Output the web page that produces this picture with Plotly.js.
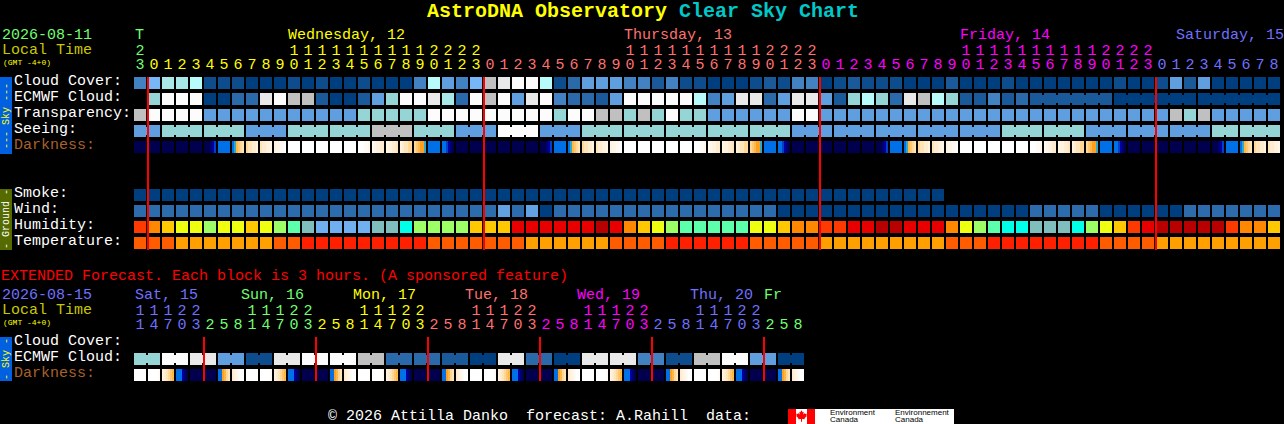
<!DOCTYPE html>
<html><head><meta charset="utf-8">
<script src="https://cdn.plot.ly/plotly-3.0.1.min.js"></script>
<style>html,body{margin:0;padding:0;background:#000;overflow:hidden}#c{width:1284px;height:424px}</style>
</head><body><div id="c"></div>
<script>
// ---- values (indices into the palettes) ----
const cloudPalette=['#003f7f','#0d4d8d','#1a5a9a','#2a6aaa','#4382c2','#5f9fe0','#77b7f7','#95d5d5','#a8e8e8','#b8fbfb','#e9e9e9','#fcfcfc','#c0c0c0'];
const cloudCover=[4,6,8,8,9,1,1,1,0,0, 0,1,0,1,0,0,1,0,0,0, 4,9,5,4,6,12,10,11,11,9, 1,3,5,5,5,4,4,2,4,1, 1,0,0,0,1,2,1,4,4,0, 1,2,1,1,1,0,0,0,2,0, 0,0,1,0,0,0,0,0,0,0, 1,0,0,1,5,2,5,0,0,0, 0,0];
const ecmwfCloud=[null,7,11,11,11,0,0,3,3,10, 11,12,12,2,0,0,2,5,7,11, 11,10,8,3,11,12,11,5,10,11, 4,3,3,2,5,11,11,11,11,11, 9,4,5,10,10,3,5,10,10,5, 2,7,9,7,3,10,12,9,7,2, 2,4,2,3,2,2,2,2,2,2, 0,0,0,0,0,0,0,0,0,0, 0,0];
const ecmwfGroups=[64,64,64,64,64,64,70,70,70,70,70,70,76,76,76,76,76,76];
const transparency=[12,11,11,11,11,5,5,5,5,5, 5,5,5,5,5,5,7,7,7,7, 7,11,11,11,11,11,11,11,11,11, 7,11,11,12,12,7,12,7,11,7, 7,5,5,5,5,5,5,11,11,5, 5,5,5,5,5,5,5,5,5,5, 5,5,5,5,5,5,5,5,5,5, 5,5,5,5,12,7,12,5,5,5, 5,5];
const seeing=[5,5,7,7,7,7,7,7,5,5, 5,7,7,7,7,7,7,12,12,12, 7,7,7,5,5,5,11,11,11,5, 5,5,7,7,7,7,7,7,7,7, 7,7,7,7,7,7,7,5,5,5, 5,5,5,5,5,5,5,5,5,5, 5,5,7,7,7,7,7,7,5,5, 5,5,5,5,5,5,5,7,7,7, 7,7];
const seeingGroupSizes=[2,3,3,3,3,3,3,3,3,3,3,3,3,3,3,3,3,3,3,3,3,3,3,3,3,3,2];
const darknessPalette={'0':'#00004e','1':'#000070','2':'#0000a0','3':'#0040c8','4':'#0070e8','5':'#30a8c8','6':'#ffa020','7':'#ffb848','8':'#ffc870','9':'#ffd898','a':'#ffe4b8','b':'#ffecd0','c':'#fff2de','d':'#fff6ea','e':'#fffaf4','f':'#ffffff'};
const darkness=["000000","000000","000000","000000","000000","000123","444444","45789a","9aabbc","abbccd",
"cddeef","ffffff","ffffff","ffffff","ffffff","ffffff","fffeed","edccbb","dccbba","cbaa99",
"987665","444444","443210","000000","000000","000000","000000","000000","000000","000123",
"444444","45789a","9aabbc","abbccd","cddeef","ffffff","ffffff","ffffff","ffffff","ffffff",
"fffeed","edccbb","dccbba","cbaa99","987665","444444","443210","000000","000000","000000",
"000000","000000","000000","000123","444444","45789a","9aabbc","abbccd","cddeef","ffffff",
"ffffff","ffffff","ffffff","ffffff","fffeed","edccbb","dccbba","cbaa99","987665","444444",
"443210","000000","000000","000000","000000","000000","000000","000123","444444","45789a",
"9aabbc","abbccd"];
const smoke=[0,0,0,0,0,0,0,0,0,0, 0,0,0,0,0,0,0,0,0,0, 0,0,0,0,0,0,0,0,0,0, 0,0,0,0,0,0,0,0,0,0, 0,0,0,0,0,0,0,0,0,0, 0,0,0,0,0,0,0,0];
const windPalette=['#003f7f','#2c6cac','#62a2e2'];
const wind=[1,1,1,1,1,1,1,1,1,1, 1,1,1,1,1,1,1,1,1,1, 1,1,1,1,1,1,2,1,2,0, 1,1,1,1,1,1,1,1,1,1, 1,1,1,1,1,1,0,0,0,0, 0,0,0,0,0,0,0,0,0,0, 0,0,0,0,1,1,1,1,1,0, 0,0,0,0,0,1,1,1,1,1, 1,1];
const humidityPalette=['#b80000','#e80000','#ff3a00','#ff8800','#ffc800','#eeff10','#9cff66','#5cffaa','#00ffe8','#80bebe','#70b0f0'];
const humidity=[2,3,4,5,5,6,5,5,4,5, 6,7,9,10,10,10,10,9,9,8, 6,6,6,6,4,4,4,1,1,1, 1,1,1,0,1,3,4,5,6,7, 7,7,7,7,5,5,4,3,3,2, 2,1,1,0,0,1,1,1,3,5, 6,7,8,8,9,9,9,8,6,5, 4,2,1,0,0,0,0,0,2,3, 3,4];
const temperaturePalette=['#ff2000','#ff5c00','#ffa000'];
const temperature=[1,1,1,2,2,2,2,2,2,2, 1,1,0,0,0,0,0,0,0,0, 0,1,1,1,1,1,1,1,2,2, 2,2,2,2,1,1,1,1,0,0, 0,0,0,0,1,1,1,1,1,2, 2,2,2,2,2,2,2,2,1,1, 1,0,0,0,0,0,0,0,0,1, 1,1,1,2,2,2,2,2,2,2, 2,2];
const extEcmwf=[7,7,11,11,10,10,5,5,1,1,10,10,11,11,11,11,12,12,3,3,3,3,2,2,0,0,10,10,3,3,0,0,10,10,10,10,4,4,1,1,12,12,11,11,5,5,0,0];
const extDarkness=["ffffff","fffffe","cba987","444210","000000","000000","44679a","bcdeff",
"ffffff","fffffe","cba987","444210","000000","000000","44679a","bcdeff",
"ffffff","fffffe","cba987","444210","000000","000000","44679a","bcdeff",
"ffffff","fffffe","cba987","444210","000000","000000","44679a","bcdeff",
"ffffff","fffffe","cba987","444210","000000","000000","44679a","bcdeff",
"ffffff","fffffe","cba987","444210","000000","000000","44679a","bcdeff"];
const topOnes="3"+"012345678901234567890123"+"012345678901234567890123"+"012345678901234567890123"+"012345678";
const topTens="2"+"          11111111112222"+"          11111111112222"+"          11111111112222"+"         ";
const topDayStarts=[[0,'#70ff70'],[1,'#ffff00'],[25,'#ff7070'],[49,'#ff00ff'],[73,'#7070ff']];
const extOnes="14703258".repeat(6);
const extTens="11122   ".repeat(6);
const extDayStarts=[[0,'#7070ff'],[5,'#70ff70'],[13,'#ffff00'],[21,'#ff7070'],[29,'#ff00ff'],[37,'#7070ff'],[45,'#70ff70']];
const midnightsTop=[0,24,48,72];
const midnightsExt=[4,12,20,28,36,44];
const rowLabels=[["Cloud Cover:",82,'#fff'],["ECMWF Cloud:",98,'#fff'],["Transparency:",114,'#fff'],["Seeing:",130,'#fff'],["Darkness:",146,'#a8602c'],["Smoke:",194,'#fff'],["Wind:",210,'#fff'],["Humidity:",226,'#fff'],["Temperature:",242,'#fff'],["Cloud Cover:",342,'#fff'],["ECMWF Cloud:",358,'#fff'],["Darkness:",374,'#a8602c']];

// ---- drawing ----
const W=1284,H=424,CW=14,RH=16;
const mono='"Liberation Mono",monospace';
function xr(){return [(0-140)/CW,(W-140)/CW];}
const yrTop=[(H-83)/RH,(0-83)/RH], yrExt=[(H-343)/RH,(0-343)/RH];
const traces=[];
function row(values,palette,r,axis,name,groupOf){
  const x=[],y=[],base=[],width=[],color=[];
  values.forEach((v,i)=>{
    if(v===null)return;
    x.push(i);y.push(12/RH);base.push(r-6/RH);width.push(12/CW);color.push(palette[v]);
    if(groupOf&&groupOf(i)!==null&&groupOf(i)===groupOf(i+1)){
      x.push(i+.5);y.push(8/RH);base.push(r-4/RH);width.push(2.02/CW);color.push(palette[v]);
    }
  });
  traces.push({type:'bar',name,x,y,base,width,marker:{color,line:{width:0}},yaxis:axis,hoverinfo:'skip'});
}
function gradRow(cells,r,axis,name){
  const x=[],y=[],base=[],width=[],color=[];
  cells.forEach((s,i)=>{for(let k=0;k<6;k++){
    x.push(i+(k-2.5)*2/CW);y.push(12/RH);base.push(r-6/RH);width.push(2.02/CW);color.push(darknessPalette[s[k]]);
  }});
  traces.push({type:'bar',name,x,y,base,width,marker:{color,line:{width:0}},yaxis:axis,hoverinfo:'skip'});
}
const seeingGroup=[];seeingGroupSizes.forEach((n,g)=>{for(let k=0;k<n;k++)seeingGroup.push(g);});
row(cloudCover,cloudPalette,0,'y','Cloud Cover');
row(ecmwfCloud,cloudPalette,1,'y','ECMWF Cloud',i=>(i>=64&&i<82)?ecmwfGroups[i-64]:null);
row(transparency,cloudPalette,2,'y','Transparency');
row(seeing,cloudPalette,3,'y','Seeing',i=>i<82?seeingGroup[i]:null);
gradRow(darkness,4,'y','Darkness');
row(smoke,[cloudPalette[0]],7,'y','Smoke');
row(wind,windPalette,8,'y','Wind');
row(humidity,humidityPalette,9,'y','Humidity');
row(temperature,temperaturePalette,10,'y','Temperature');
row(extEcmwf,cloudPalette,1,'y2','Ext ECMWF',i=>i<48?Math.floor(i/2):null);
gradRow(extDarkness,2,'y2','Ext Darkness');

function dayColor(starts,i){let c=starts[0][1];starts.forEach(s=>{if(i>=s[0])c=s[1];});return c;}
function digits(str,starts,px,origin,axis){
  const x=[],y=[],text=[],color=[];
  [...str].forEach((ch,i)=>{if(ch===' ')return;x.push(i);y.push((px-origin)/RH);text.push(ch);color.push(dayColor(starts,i));});
  traces.push({type:'scatter',mode:'text',x,y,text,yaxis:axis,textposition:'middle center',textfont:{family:mono,size:15,color},hoverinfo:'skip',cliponaxis:false});
}
digits(topOnes,topDayStarts,65.5,83,'y');
digits(topTens,topDayStarts,51,83,'y');
digits(extOnes,extDayStarts,325,343,'y2');
digits(extTens,extDayStarts,311,343,'y2');
function redLines(cols,y0,y1,axis){
  const x=[],y=[];cols.forEach(c=>{x.push(c+8/CW,c+8/CW,null);y.push(y0,y1,null);});
  traces.push({type:'scatter',mode:'lines',x,y,yaxis:axis,line:{color:'#ff0000',width:2},hoverinfo:'skip'});
}
redLines(midnightsTop,(77-83)/RH,(250-83)/RH,'y');
redLines(midnightsExt,(337-343)/RH,(381-343)/RH,'y2');

const ann=[];
function label(text,x,y,color,size,o){ann.push(Object.assign({text,xref:'paper',yref:'paper',x:(x-1)/W,y:1-y/H,xanchor:'left',yanchor:'middle',showarrow:false,borderpad:0,font:{family:mono,size:size||15,color}},o||{}));}
const P=(x,y)=>[x/W,1-y/H];
const shapes=[];
function rect(x0,y0,x1,y1,color){shapes.push({type:'rect',xref:'paper',yref:'paper',x0:x0/W,x1:x1/W,y0:1-y0/H,y1:1-y1/H,fillcolor:color,line:{width:0},layer:'below'});}
label("AstroDNA Observatory",427,12,'#ffff00',20,{font:{family:mono,size:20,color:'#ffff00',weight:700}});
label("Clear Sky Chart",679,12,'#00c8c8',20,{font:{family:mono,size:20,color:'#00c8c8',weight:700}});
label("2026-08-11",2,36,'#70ff70');label("Local Time",2,50.5,'#c8c800');label("(GMT -4+0)",3,62,'#ffff00',8);
label("T",135,36,'#70ff70');
label("Wednesday, 12",288,36,'#ffff00');label("Thursday, 13",624,36,'#ff7070');label("Friday, 14",960,36,'#ff00ff');label("Saturday, 15",1176,36,'#7070ff');
rowLabels.forEach(r=>label(r[0],14,r[1]-0.2,r[2]));
label("EXTENDED Forecast. Each block is 3 hours. (A sponsored feature)",0.5,276,'#ff0000');
label("2026-08-15",2,295,'#7070ff');label("Local Time",2,310,'#c8c800');label("(GMT -4+0)",3,322,'#ffff00',8);
[["Sat, 15",135,'#7070ff'],["Sun, 16",241,'#70ff70'],["Mon, 17",353,'#ffff00'],["Tue, 18",465,'#ff7070'],["Wed, 19",577,'#ff00ff'],["Thu, 20",690,'#7070ff'],["Fr",764,'#70ff70']].forEach(d=>label(d[0],d[1],295,d[2]));
label("\u00a9 2026 Attilla Danko\u00a0\u00a0forecast: A.Rahill\u00a0\u00a0data:",328,416,'#fff');
// side bands
rect(0,77,12,154,'#0060e0');rect(0,189,12,250,'#556b00');rect(0,337,12,381,'#0060e0');
function side(text,yc,color){ann.push({text,xref:'paper',yref:'paper',x:6/W,y:1-yc/H,xanchor:'center',yanchor:'middle',textangle:-90,showarrow:false,borderpad:0,font:{family:mono,size:10,color}});}
side("--- Sky ---",116,'#ffff00');side("- Ground -",219,'#ffffff');side("- Sky -",359,'#ffff00');
// logo
rect(788,409,815,424,'#ff0000');rect(796,409,807,424,'#ffffff');rect(815,409,954,424,'#ffffff');
const leaf=[[0,-6],[1.2,-4],[2.2,-4.6],[1.8,-1.8],[3.4,-3.2],[3.8,-2.2],[5.4,-2.6],[4.8,-0.8],[5.4,-0.2],[3,2],[3.4,3],[0.5,2.6],[0.5,5.4],[-0.5,5.4],[-0.5,2.6],[-3.4,3],[-3,2],[-5.4,-0.2],[-4.8,-0.8],[-5.4,-2.6],[-3.8,-2.2],[-3.4,-3.2],[-1.8,-1.8],[-2.2,-4.6],[-1.2,-4]];
shapes.push({type:'path',xref:'paper',yref:'paper',path:'M'+leaf.map(p=>P(801.5+p[0],416.3+p[1]).join(',')).join('L')+'Z',fillcolor:'#ff0000',line:{width:0}});
const sans='"Liberation Sans",sans-serif';
[["Environment",830,412.5],["Canada",830,419.5],["Environnement",895,412.5],["Canada",895,419.5]].forEach(t=>label(t[0],t[1],t[2],'#000',8,{font:{family:sans,size:8,color:'#000'}}));

Plotly.newPlot('c',traces,{
  width:W,height:H,margin:{l:0,r:0,t:0,b:0,pad:0},paper_bgcolor:'#000',plot_bgcolor:'#000',showlegend:false,barmode:'overlay',
  xaxis:{range:xr(),visible:false,fixedrange:true},
  yaxis:{range:yrTop,visible:false,fixedrange:true},
  yaxis2:{range:yrExt,visible:false,fixedrange:true,overlaying:'y'},
  shapes,annotations:ann
},{displayModeBar:false,staticPlot:true});
</script></body></html>
